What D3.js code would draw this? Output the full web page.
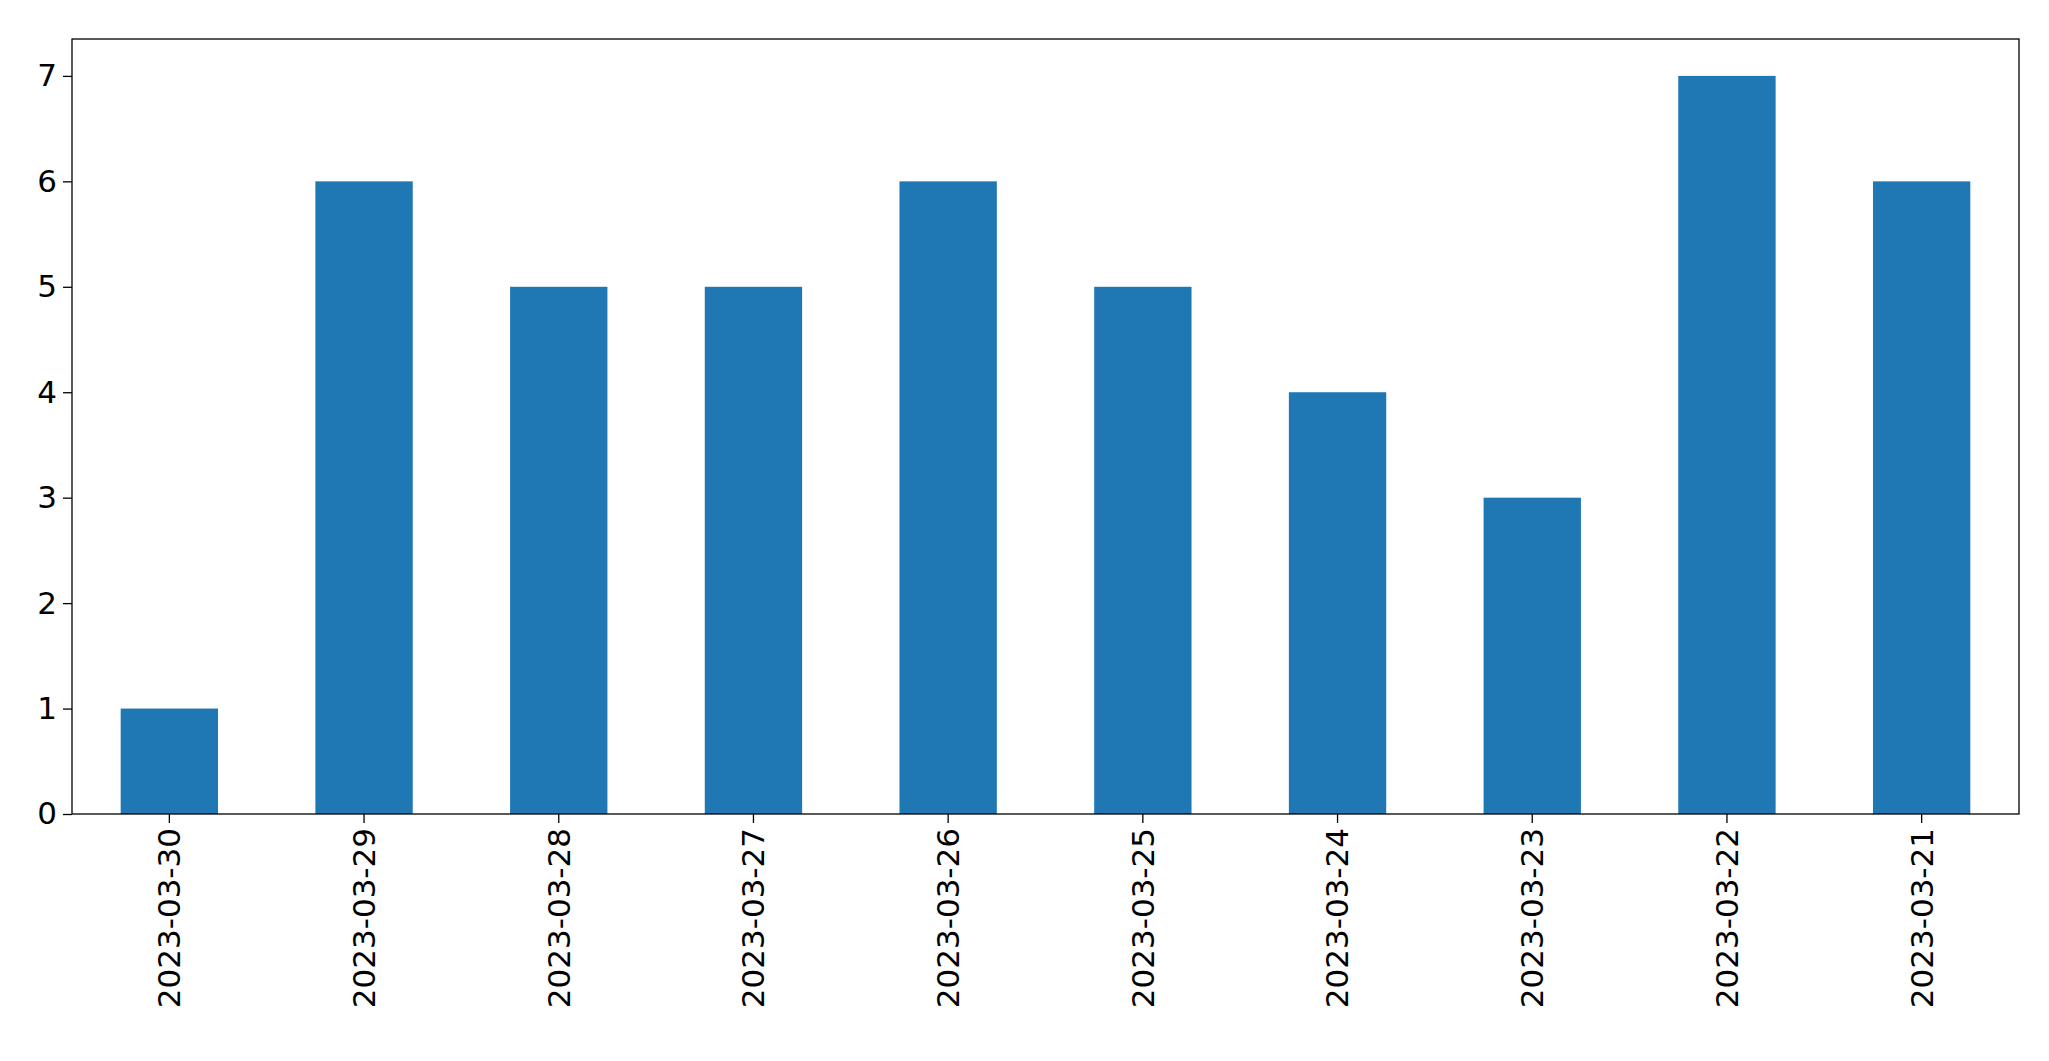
<!DOCTYPE html>
<html><head><meta charset="utf-8">
<script src="https://cdn.jsdelivr.net/npm/d3@7"></script>
<style>body{margin:0;background:#fff}</style></head>
<body><svg id="c" width="2049" height="1061"></svg>
<script>
const categories = ["2023-03-30","2023-03-29","2023-03-28","2023-03-27","2023-03-26","2023-03-25","2023-03-24","2023-03-23","2023-03-22","2023-03-21"];
const values = [1,6,5,5,6,5,4,3,7,6];
const yTicks = [0,1,2,3,4,5,6,7];

const m = {left:72, right:2019, top:39, bottom:814};
const svg = d3.select("#c");
const x = d3.scaleBand().domain(categories).range([m.left, m.right]).paddingInner(0.5).paddingOuter(0.25);
const y = d3.scaleLinear().domain([0, 7.35]).range([m.bottom, m.top]);

svg.append("g").selectAll("rect").data(values).join("rect")
  .attr("x", (d,i)=>x(categories[i])).attr("width", x.bandwidth())
  .attr("y", d=>y(d)).attr("height", d=>y(0)-y(d)).attr("fill", "#1f77b4");

svg.append("rect").attr("x", m.left).attr("y", m.top).attr("width", m.right-m.left).attr("height", m.bottom-m.top)
  .attr("fill","none").attr("stroke","#000").attr("stroke-width",1.3);

const font = "DejaVu Sans, sans-serif";
const ya = svg.append("g").attr("transform",`translate(${m.left},0)`)
  .call(d3.axisLeft(y).tickValues(yTicks).tickSize(9).tickPadding(6).tickFormat(d3.format("d")));
ya.select(".domain").remove();
ya.selectAll("text").attr("font-size", 31).attr("font-family", font).attr("fill","#000");
ya.selectAll("line").attr("stroke","#000").attr("stroke-width",1.3);

const xa = svg.append("g").attr("transform",`translate(0,${m.bottom})`)
  .call(d3.axisBottom(x).tickSize(9).tickPadding(6));
xa.select(".domain").remove();
xa.selectAll("line").attr("stroke","#000").attr("stroke-width",1.3);
xa.selectAll("text").attr("font-size", 31).attr("font-family", font).attr("fill","#000")
  .attr("text-anchor","end").attr("dy","0.35em")
  .attr("transform","translate(0,14) rotate(-90)").attr("y",0).attr("x",0);
</script></body></html>
